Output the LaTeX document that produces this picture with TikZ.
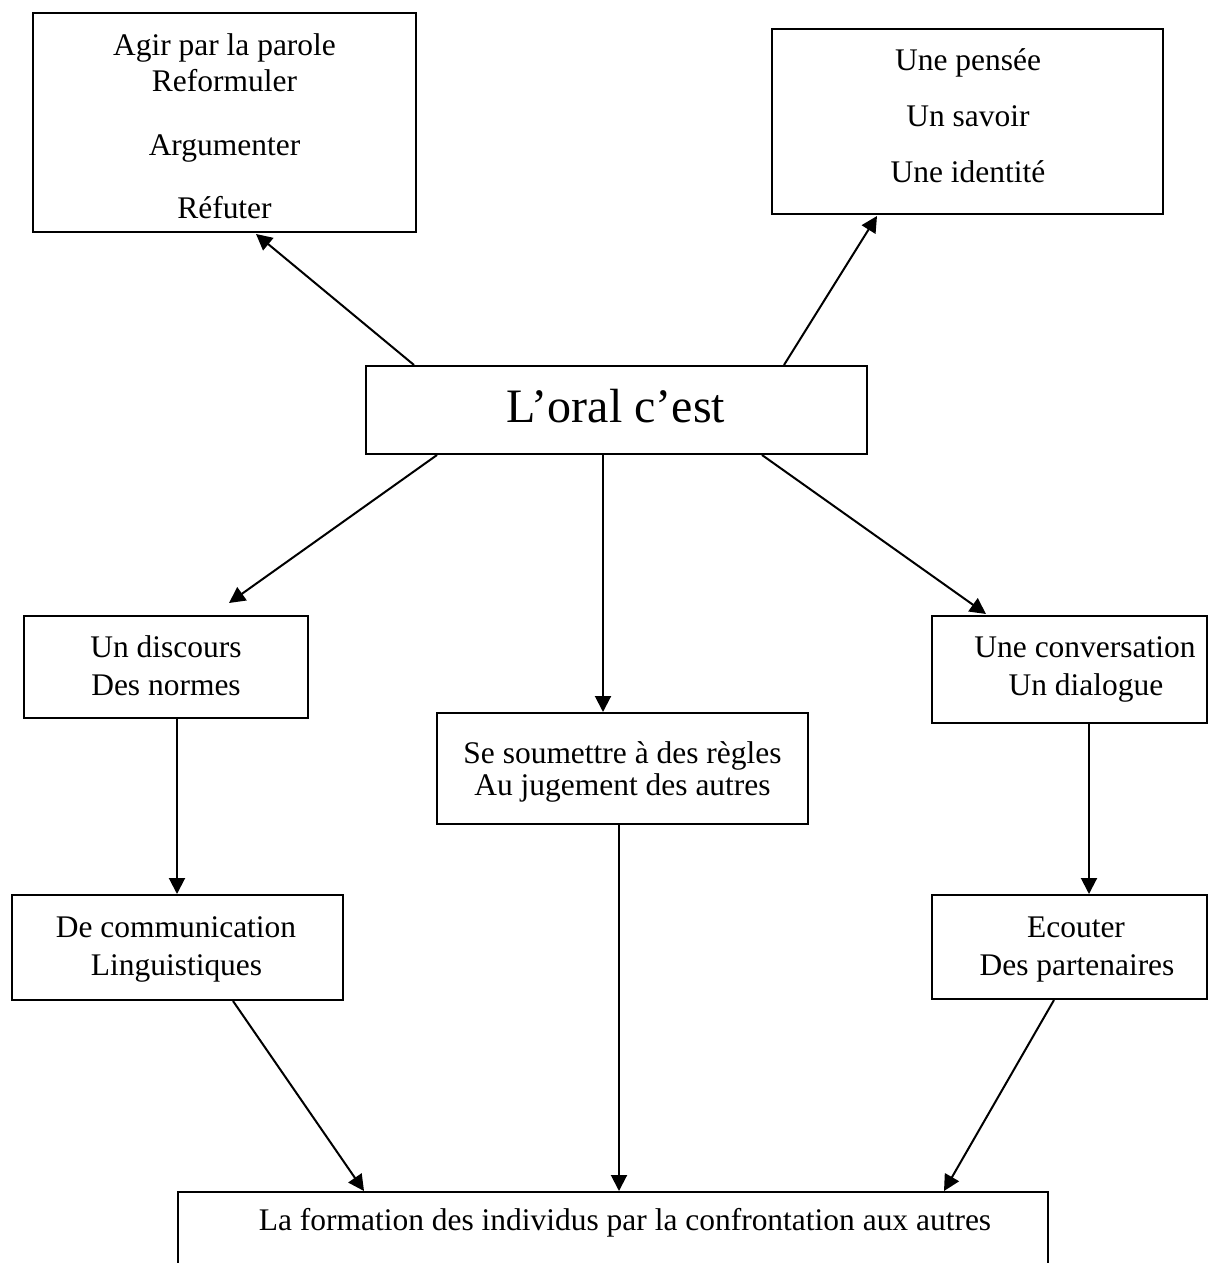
\documentclass[tikz,border=0pt]{standalone}
\usepackage{fontspec}
\setmainfont{Liberation Serif}
\usetikzlibrary{arrows.meta,calc}
\tikzset{
  box/.style={draw=black, line width=1.5pt, inner sep=0pt, fill=none},
  txt/.style={inner sep=0pt, anchor=base, font=\fontsize{23.6}{28}\selectfont},
  bigtxt/.style={inner sep=0pt, anchor=base, font=\fontsize{36}{42}\selectfont},
  arr/.style={line width=1.5pt, -{Triangle[length=12pt,width=12pt]}}
}
\begin{document}
\begin{tikzpicture}[x=0.75pt,y=-0.75pt]
\clip (0,0) rectangle (1208,1263);
\fill[white] (0,0) rectangle (1208,1263);
% boxes
\node[box, minimum width=383*0.75pt, minimum height=219*0.75pt] (A) at (224.5,122.5) {};
\node[box, minimum width=391*0.75pt, minimum height=185*0.75pt] (B) at (967.5,121.5) {};
\node[box, minimum width=501*0.75pt, minimum height=88*0.75pt] (C) at (616.5,410) {};
\node[box, minimum width=284*0.75pt, minimum height=102*0.75pt] (D) at (166,667) {};
\node[box, minimum width=275*0.75pt, minimum height=107*0.75pt] (E) at (1069.5,669.5) {};
\node[box, minimum width=371*0.75pt, minimum height=111*0.75pt] (H) at (622.5,768.5) {};
\node[box, minimum width=331*0.75pt, minimum height=105*0.75pt] (F) at (177.5,947.5) {};
\node[box, minimum width=275*0.75pt, minimum height=104*0.75pt] (G) at (1069.5,947) {};
\node[box, minimum width=870*0.75pt, minimum height=120*0.75pt] (I) at (613,1252) {};
% texts
\node[txt] (a1) at (224.5,56) {Agir par la parole};
\node[txt] (a2) at (224.5,92) {Reformuler};
\node[txt] (a3) at (224.5,155) {Argumenter};
\node[txt] (a4) at (224.5,218) {Réfuter};
\node[txt] (b1) at (968,70) {Une pensée};
\node[txt] (b2) at (968,127) {Un savoir};
\node[txt] (b3) at (968,182) {Une identité};
\node[bigtxt] (c1) at (616,422) {L’oral c’est};
\node[txt] (d1) at (166,657) {Un discours};
\node[txt] (d2) at (166,695) {Des normes};
\node[txt] (e1) at (1085,657) {Une conversation};
\node[txt] (e2) at (1086,695) {Un dialogue};
\node[txt] (h1) at (622.5,763) {Se soumettre à des règles};
\node[txt] (h2) at (622.5,795) {Au jugement des autres};
\node[txt] (f1) at (176,937) {De communication};
\node[txt] (f2) at (176.5,975) {Linguistiques};
\node[txt] (g1) at (1076,937) {Ecouter};
\node[txt] (g2) at (1077,975) {Des partenaires};
\node[txt] (i1) at (625,1230) {La formation des individus par la confrontation aux autres};
% connectors
\draw[arr] ($(C.north west)+(49,0)$) -- ($(A.south west)+(224,1)$);
\draw[arr] ($(C.north west)+(419,0)$) -- ($(B.south west)+(106,1)$);
\draw[arr] ($(C.south west)+(72,0)$) -- ($(D.north west)+(206,-12)$);
\draw[arr] ($(C.south west)+(238,0)$) -- ($(H.north west)+(167,0)$);
\draw[arr] ($(C.south west)+(397,0)$) -- ($(E.north west)+(55,-1)$);
\draw[arr] ($(D.south west)+(154,0)$) -- ($(F.north west)+(166,0)$);
\draw[arr] ($(E.south west)+(158,0)$) -- ($(G.north west)+(158,0)$);
\draw[arr] ($(F.south west)+(222,0)$) -- ($(I.north west)+(187,0)$);
\draw[arr] ($(H.south west)+(183,0)$) -- ($(I.north west)+(442,0)$);
\draw[arr] ($(G.south west)+(123,0)$) -- ($(I.north west)+(767,0)$);
\end{tikzpicture}
\end{document}
